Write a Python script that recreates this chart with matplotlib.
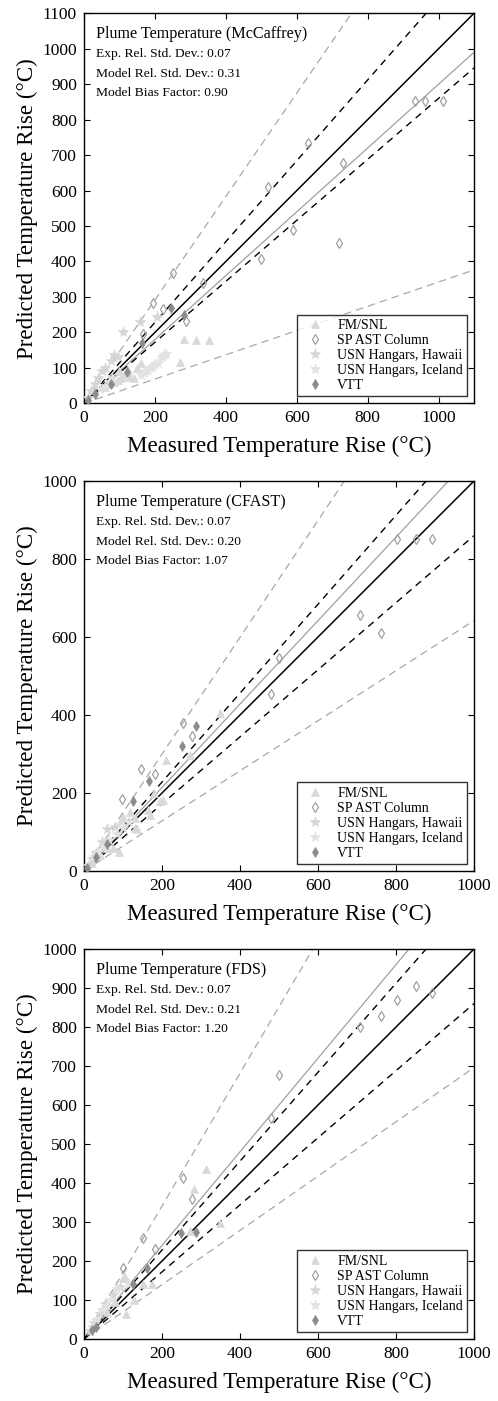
import matplotlib
matplotlib.use("Agg")
import matplotlib.pyplot as plt
import numpy as np

plt.rcParams['font.family'] = ['Liberation Serif', 'DejaVu Serif']
plt.rcParams['mathtext.fontset'] = 'stix'

# ---------------- data ----------------
models = ["McCaffrey", "CFAST", "FDS"]
exp_std = [0.07, 0.07, 0.07]
model_std = [0.31, 0.20, 0.21]
bias = [0.90, 1.07, 1.20]
axis_max = [1100, 1000, 1000]
y_tick_step = [100, 200, 100]
x_ticks = [0, 200, 400, 600, 800, 1000]

series_names = ["FM/SNL", "SP AST Column", "USN Hangars, Hawaii", "USN Hangars, Iceland", "VTT"]

# McCaffrey
mc_fm_x = [283, 316, 353, 271, 120, 130, 140, 110, 100, 95, 150, 125, 105, 85, 160, 60, 70]
mc_fm_y = [182, 179, 179, 116, 88, 75, 70, 78, 90, 65, 100, 95, 72, 60, 115, 45, 55]
mc_sp_x = [165, 196, 224, 252, 288, 337, 498, 518, 590, 633, 720, 731, 933, 962, 1013]
mc_sp_y = [196, 283, 266, 367, 232, 339, 407, 610, 488, 733, 452, 678, 853, 853, 853]
mc_hi_x = [109, 158, 205, 75, 60, 50, 40, 30, 85, 95, 20, 10]
mc_hi_y = [200, 229, 243, 120, 100, 90, 70, 55, 135, 130, 35, 15]
mc_is_x = [170, 180, 190, 200, 210, 220, 225, 230, 160, 175, 195, 60, 70, 80, 45]
mc_is_y = [85, 95, 100, 110, 115, 130, 135, 140, 80, 90, 105, 50, 60, 70, 40]
mc_vtt_x = [244, 282, 163, 120, 75, 10, 30]
mc_vtt_y = [269, 250, 170, 88, 55, 8, 25]

# CFAST
cf_fm_x = [349, 210, 272, 203, 195, 165, 169, 135, 131, 118, 101, 94, 75, 91, 60, 40, 20, 180, 130]
cf_fm_y = [406, 284, 297, 181, 180, 156, 144, 108, 136, 152, 138, 130, 58, 49, 60, 40, 20, 200, 110]
cf_sp_x = [98, 146, 182, 253, 278, 479, 501, 708, 761, 803, 851, 893]
cf_sp_y = [184, 261, 249, 379, 345, 453, 547, 656, 610, 851, 851, 851]
cf_hi_x = [58, 79, 45, 30, 20, 10]
cf_hi_y = [107, 112, 75, 45, 30, 12]
cf_is_x = [50, 65, 85, 100, 115, 35, 25]
cf_is_y = [60, 80, 95, 110, 125, 50, 35]
cf_vtt_x = [287, 251, 166, 126, 60, 30, 8]
cf_vtt_y = [371, 320, 231, 179, 70, 35, 8]

# FDS
fd_fm_x = [313, 283, 349, 105, 108, 128, 174, 272, 101, 150, 80, 60]
fd_fm_y = [435, 384, 298, 159, 65, 101, 142, 277, 157, 140, 95, 70]
fd_sp_x = [101, 150, 182, 253, 278, 479, 501, 708, 761, 803, 851, 893]
fd_sp_y = [181, 258, 230, 412, 358, 566, 677, 800, 829, 870, 904, 887]
fd_hi_x = [75, 92, 55, 40, 25, 15]
fd_hi_y = [113, 134, 90, 65, 40, 20]
fd_is_x = [45, 60, 70, 85, 30, 20, 115]
fd_is_y = [75, 85, 100, 128, 50, 30, 140]
fd_vtt_x = [248, 287, 162, 126, 32, 20]
fd_vtt_y = [272, 275, 183, 140, 31, 22]

panel_data = [
    [(mc_fm_x, mc_fm_y), (mc_sp_x, mc_sp_y), (mc_hi_x, mc_hi_y), (mc_is_x, mc_is_y), (mc_vtt_x, mc_vtt_y)],
    [(cf_fm_x, cf_fm_y), (cf_sp_x, cf_sp_y), (cf_hi_x, cf_hi_y), (cf_is_x, cf_is_y), (cf_vtt_x, cf_vtt_y)],
    [(fd_fm_x, fd_fm_y), (fd_sp_x, fd_sp_y), (fd_hi_x, fd_hi_y), (fd_is_x, fd_is_y), (fd_vtt_x, fd_vtt_y)],
]

# ---------------- styles ----------------
styles = [
    dict(marker='^', ms=6, mfc='#d9d9d9', mec='#d9d9d9', mew=0.5),
    dict(marker='d', ms=5, mfc='none', mec='#a0a0a0', mew=0.9),
    dict(marker='*', ms=8, mfc='#d6d6d6', mec='#d6d6d6', mew=0.5),
    dict(marker='*', ms=8, mfc='#e2e2e2', mec='#e2e2e2', mew=0.5),
    dict(marker='d', ms=5, mfc='#8c8c8c', mec='#8c8c8c', mew=0.5),
]

W, H = 498, 1401
fig = plt.figure(figsize=(W / 100, H / 100), dpi=100)

panel_tops = [13.3, 481, 949]
ax_w = 390
for i in range(3):
    top = panel_tops[i]
    ax = fig.add_axes([84 / W, (H - top - ax_w) / H, ax_w / W, ax_w / H])
    m = axis_max[i]
    xs = np.array([0, m * 1.0])
    sE, sM, d = exp_std[i], model_std[i], bias[i]
    # model bands
    ax.plot(xs, d * (1 + 2 * sM) * xs, color='#a8a8a8', lw=0.9, dashes=(6, 4), zorder=1)
    ax.plot(xs, d * (1 - 2 * sM) * xs, color='#a8a8a8', lw=0.9, dashes=(6, 4), zorder=1)
    ax.plot(xs, d * xs, color='#a0a0a0', lw=0.9, zorder=1)
    # experimental bands
    ax.plot(xs, (1 + 2 * sE) * xs, color='black', lw=1.0, dashes=(5, 4), zorder=1)
    ax.plot(xs, (1 - 2 * sE) * xs, color='black', lw=1.0, dashes=(5, 4), zorder=1)
    ax.plot(xs, xs, color='black', lw=1.1, zorder=1)

    for (sx, sy), st, name in zip(panel_data[i], styles, series_names):
        ax.plot(sx, sy, ls='none', label=name, zorder=3, **st)

    ax.set_xlim(0, m)
    ax.set_ylim(0, m)
    ax.set_xticks(x_ticks)
    ax.set_yticks(np.arange(0, m + 1, y_tick_step[i]))
    ax.tick_params(direction='in', top=True, right=True, length=4, width=0.8,
                   labelsize=12.5, pad=5, colors='black')
    for sp in ax.spines.values():
        sp.set_linewidth(1.0)
    ax.set_xlabel("Measured Temperature Rise (°C)", fontsize=16.6, labelpad=7)
    ax.set_ylabel("Predicted Temperature Rise (°C)", fontsize=16.6, labelpad=3)

    ax.text(0.031, 0.937, f"Plume Temperature ({models[i]})", transform=ax.transAxes,
            fontsize=11.6, va='baseline', ha='left')
    ax.text(0.031, 0.887, f"Exp. Rel. Std. Dev.: {sE:.2f}", transform=ax.transAxes,
            fontsize=9.7, va='baseline', ha='left')
    ax.text(0.031, 0.837, f"Model Rel. Std. Dev.: {sM:.2f}", transform=ax.transAxes,
            fontsize=9.7, va='baseline', ha='left')
    ax.text(0.031, 0.788, f"Model Bias Factor: {d:.2f}", transform=ax.transAxes,
            fontsize=9.7, va='baseline', ha='left')

    leg = ax.legend(loc='lower right', fontsize=10, frameon=True, fancybox=False,
                    borderpad=0.3, labelspacing=0.15, handletextpad=0.6,
                    handlelength=2.0, borderaxespad=0.5, numpoints=1)
    leg.get_frame().set_edgecolor('black')
    leg.get_frame().set_linewidth(1.0)

fig.savefig("out.png", dpi=100)
